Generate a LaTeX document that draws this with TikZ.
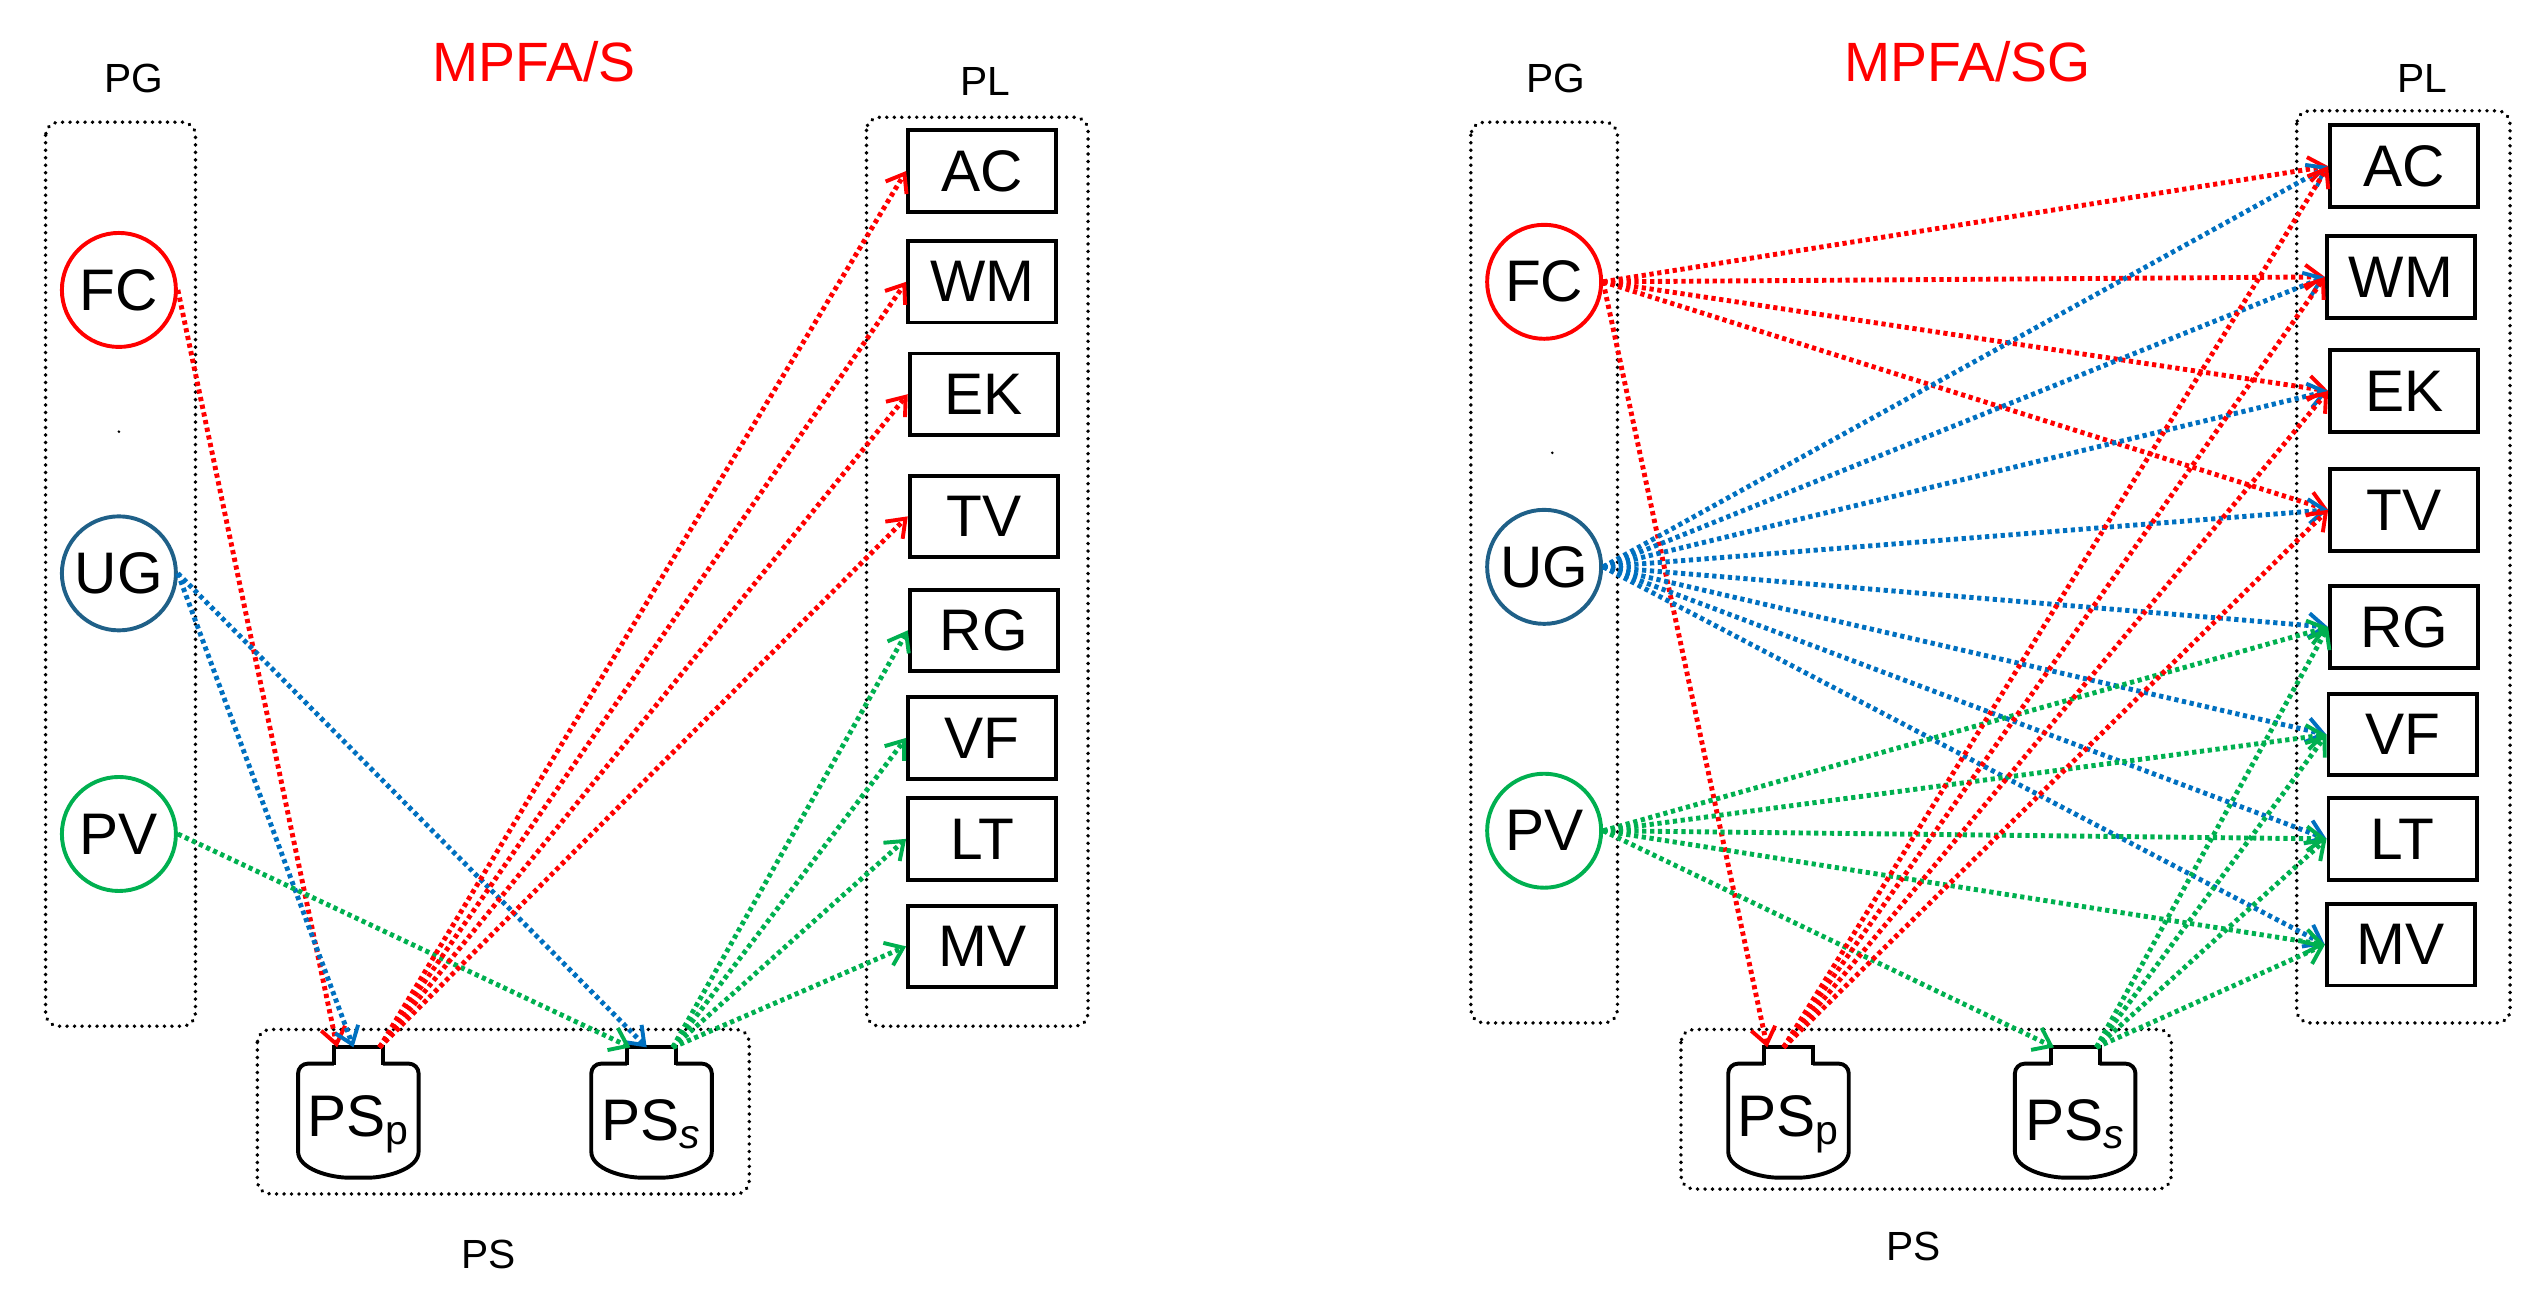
\documentclass[tikz,border=0pt]{standalone}
\usepackage{fontspec}
\setmainfont{Liberation Sans}
\usetikzlibrary{arrows.meta}
\definecolor{cr}{HTML}{FF0000}
\definecolor{cb}{HTML}{0070C0}
\definecolor{cg}{HTML}{00B050}
\definecolor{cu}{HTML}{1F6088}
\begin{document}
\begin{tikzpicture}[x=1pt,y=-1pt,
  grp/.style={draw,line width=2.3pt,dash pattern=on 0.1pt off 4.5pt,line cap=round,rounded corners=8pt},
  circ/.style={circle,draw,line width=2.4pt,minimum size=70pt,inner sep=0pt,font=\fontsize{36}{36}\selectfont},
  box/.style={draw,line width=2.4pt,minimum width=91pt,minimum height=50pt,inner sep=0pt,font=\fontsize{36}{36}\selectfont},
  lab/.style={font=\fontsize{25}{25}\selectfont},
  ttl/.style={font=\fontsize{34}{34}\selectfont,text=cr},
  con/.style={line width=3pt,dash pattern=on 2.6pt off 2.2pt,-{Straight Barb[length=10pt,width=15pt,line width=2.4pt]}},
  r/.style={con,cr}, b/.style={con,cb}, g/.style={con,cg},
  tank/.pic={
    \draw[line width=2.4pt,rounded corners=6pt] (-15,-30) -- (-37,-30) -- (-37,18) to[out=-90,in=180] (0,40) to[out=0,in=-90] (37,18) -- (37,-30) -- (15,-30);
    \draw[line width=2.4pt] (-15,-29) -- (-15,-40) -- (15,-40) -- (15,-29);
    \coordinate (-nl) at (-13,-40); \coordinate (-nm) at (-3,-40); \coordinate (-nr) at (13,-40);
  }]
\useasboundingbox (0,0) rectangle (1560,793);
% ===== Left panel =====
\draw[grp] (28,75) rectangle (120,630);
\node[lab] (pg1) at (82,48) {PG};
\node[ttl] (t1) at (328,38) {MPFA/S};
\draw[grp] (532,72) rectangle (668,630);
\node[lab] (pl1) at (605,50) {PL};
\draw[grp] (158,632) rectangle (460,733);
\node[lab] (ps1) at (300,770) {PS};
\node[circ,cr] (fc1) at (73,178) {\textcolor{black}{FC}};
\node[circ,cu] (ug1) at (73,352) {\textcolor{black}{UG}};
\node[circ,cg] (pv1) at (73,512) {\textcolor{black}{PV}};
\fill (73,265) circle (0.9pt);
\foreach \n/\x/\y in {AC/603/105,WM/603/173,EK/604/242,TV/604/317,RG/604/387,VF/603/453,LT/603/515,MV/603/581}
  \node[box] (\n1) at (\x,\y) {\n};
\pic (pp1) at (220,683) {tank};
\pic (ps1t) at (400,683) {tank};
\node[font=\fontsize{36}{36}\selectfont] (lp1) at (220,690) {PS\textsubscript{p}};
\node[font=\fontsize{36}{36}\selectfont] (ls1) at (400,690) {PS\textsubscript{\textit{s}}};
\draw[r] (fc1.east) -- (pp1-nl);
\draw[b] (ug1.east) -- (pp1-nm);
\draw[b] (ug1.east) -- (ps1t-nm);
\draw[g] (pv1.east) -- (ps1t-nl);
\foreach \n in {AC,WM,EK,TV} \draw[r] (pp1-nr) -- (\n1.west);
\foreach \n in {RG,VF,LT,MV} \draw[g] (ps1t-nr) -- (\n1.west);
% ===== Right panel =====
\draw[grp] (903,75) rectangle (993,628);
\node[lab] (pg2) at (955,48) {PG};
\node[ttl] (t2) at (1208,38) {MPFA/SG};
\draw[grp] (1410,68) rectangle (1541,628);
\node[lab] (pl2) at (1487,48) {PL};
\draw[grp] (1032,632) rectangle (1333,730);
\node[lab] (ps2) at (1175,765) {PS};
\node[circ,cr] (fc2) at (948,173) {\textcolor{black}{FC}};
\node[circ,cu] (ug2) at (948,348) {\textcolor{black}{UG}};
\node[circ,cg] (pv2) at (948,510) {\textcolor{black}{PV}};
\fill (953,278) circle (0.9pt);
\foreach \n/\x/\y in {AC/1476/102,WM/1474/170,EK/1476/240,TV/1476/313,RG/1476/385,VF/1475/451,LT/1475/515,MV/1474/580}
  \node[box] (\n2) at (\x,\y) {\n};
\pic (pp2) at (1098,683) {tank};
\pic (ps2t) at (1274,683) {tank};
\node[font=\fontsize{36}{36}\selectfont] (lp2) at (1098,690) {PS\textsubscript{p}};
\node[font=\fontsize{36}{36}\selectfont] (ls2) at (1274,690) {PS\textsubscript{\textit{s}}};
\foreach \n in {AC,WM,EK,TV} \draw[r] (fc2.east) -- (\n2.west);
\draw[r] (fc2.east) -- (pp2-nl);
\foreach \n in {AC,WM,EK,TV,RG,VF,LT,MV} \draw[b] (ug2.east) -- (\n2.west);
\foreach \n in {RG,VF,LT,MV} \draw[g] (pv2.east) -- (\n2.west);
\draw[g] (pv2.east) -- (ps2t-nl);
\foreach \n in {AC,WM,EK,TV} \draw[r] (pp2-nm) -- (\n2.west);
\foreach \n in {RG,VF,LT,MV} \draw[g] (ps2t-nr) -- (\n2.west);
\end{tikzpicture}
\end{document}
